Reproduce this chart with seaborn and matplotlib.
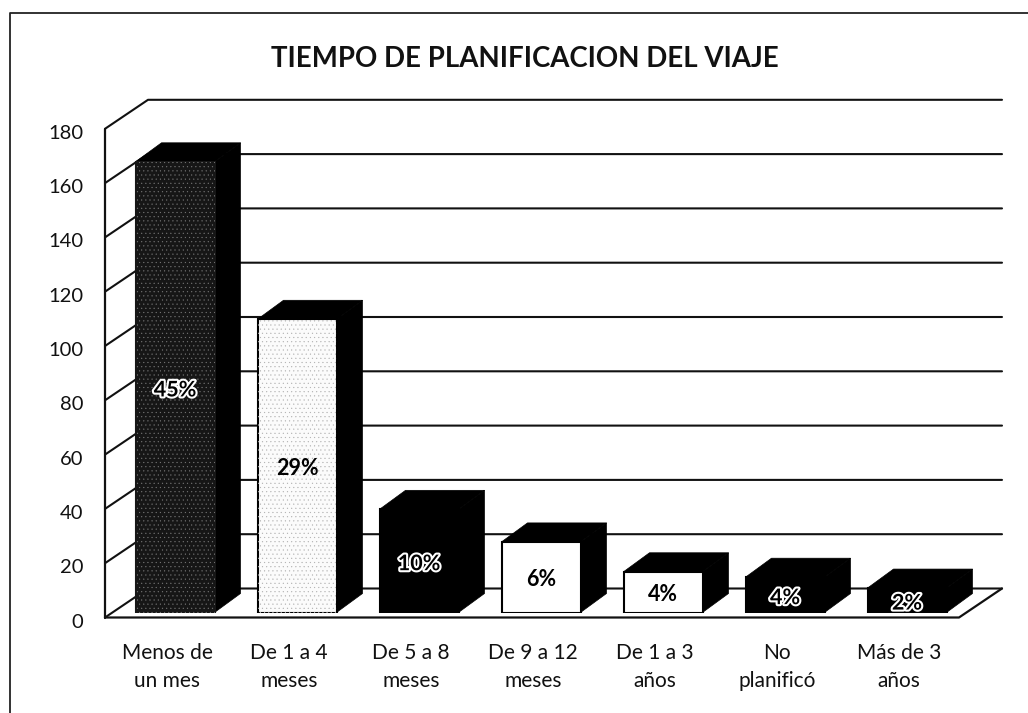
import matplotlib
matplotlib.use("Agg")
import matplotlib.pyplot as plt
import matplotlib.patheffects as pe
from matplotlib.transforms import ScaledTranslation
import seaborn as sns

categorias = ['Menos de\nun mes', 'De 1 a 4\nmeses', 'De 5 a 8\nmeses', 'De 9 a 12\nmeses',
              'De 1 a 3\naños', 'No\nplanificó', 'Más de 3\naños']
valores = [166, 108, 38, 26, 15, 13, 9]
porcentajes = ['45%', '29%', '10%', '6%', '4%', '4%', '2%']
marcas_y = [0, 20, 40, 60, 80, 100, 120, 140, 160, 180]

sns.set_theme(style="white")
plt.rcParams['font.family'] = ['Lato', 'DejaVu Sans']
plt.rcParams['hatch.linewidth'] = 0.3

W, H = 1028, 713
PX_X = 122.0          # px per category
PX_Y = 488.7 / 180    # px per value unit

fig = plt.figure(figsize=(W / 100, H / 100), dpi=100)
ax = fig.add_axes([114 / W, (H - 612.5) / H, 854 / W, 488.7 / H])

sns.barplot(x=categorias, y=valores, color='black', width=79 / PX_X, saturation=1, ax=ax, zorder=3)
ax.set_xlim(-0.5, 6.5)
ax.set_ylim(0, 180)
ax.set_yticks(marcas_y)
sns.despine(ax=ax, left=True, bottom=True)

# depth of the fake 3D, px turned into data units
front_x, front_y = -9 / PX_X, -5 / PX_Y
back_x, back_y = 34 / PX_X, 24 / PX_Y
bar_x, bar_y = 26 / PX_X, 19 / PX_Y

# walls and floor
x0, x1 = -0.5, 6.5
for m in marcas_y:
    ax.plot([x0 + front_x, x0 + back_x, x1 + back_x], [m + front_y, m + back_y, m + back_y],
            color='#111111', lw=1.5, clip_on=False, zorder=1)
ax.plot([x0 + front_x, x0 + front_x], [front_y, 180 + front_y], color='#111111', lw=1.6, clip_on=False, zorder=1)
ax.plot([x0 + front_x, x1 + front_x, x1 + back_x], [front_y, front_y, back_y],
        color='#111111', lw=1.6, clip_on=False, zorder=1)

# faces of the bars
estilos = [('#161616', '#777777', '....'), ('#fbfbfb', '#b0b0b0', '....'), ('black', 'black', None),
           ('white', 'white', None), ('white', 'white', None), ('black', 'black', None), ('black', 'black', None)]
barras = ax.containers[0]
for b, (cara, trama, hatch) in zip(barras, estilos):
    b.set_facecolor(cara)
    b.set_edgecolor('black' if cara != 'black' and cara != '#161616' else cara)
    b.set_linewidth(1.5)
    b.set_zorder(4)
    x, w, h = b.get_x(), b.get_width(), b.get_height()
    ax.fill([x, x + bar_x, x + w + bar_x, x + w], [h, h + bar_y, h + bar_y, h],
            color='black', clip_on=False, zorder=3, lw=0.5)
    ax.fill([x + w, x + w + bar_x, x + w + bar_x, x + w], [0, bar_y, h + bar_y, h],
            color='black', clip_on=False, zorder=3, lw=0.5)
    if hatch:
        ax.bar(x + w / 2, h, width=w, facecolor='none', edgecolor=trama, hatch=hatch, lw=0, zorder=5)

etiquetas = ax.bar_label(barras, labels=porcentajes, label_type='center', fontsize=15.5,
                         fontweight='bold', color='black', zorder=6)
for t, b, (cara, _, _) in zip(etiquetas, barras, estilos):
    t.set_zorder(6)
    t.xyann = (0, -2)
    if cara in ('black', '#161616'):
        t.set_path_effects([pe.withStroke(linewidth=3, foreground='white')])

# tick labels belong to the front plane, not the bar plane
ax.tick_params(axis='y', length=0, pad=22, labelsize=14.5, labelcolor='#111111')
ax.tick_params(axis='x', length=0, pad=22, labelsize=15, labelcolor='#111111')
off_y = ScaledTranslation(0, -8 / 100, fig.dpi_scale_trans)
off_x = ScaledTranslation(-8 / 100, 0, fig.dpi_scale_trans)
for lab in ax.get_yticklabels():
    lab.set_transform(lab.get_transform() + off_y)
for lab in ax.get_xticklabels():
    lab.set_transform(lab.get_transform() + off_x)
    lab.set_linespacing(1.5)

fig.text(525 / W, 1 - 59 / H, 'TIEMPO DE PLANIFICACION DEL VIAJE', ha='center', va='center',
         fontsize=19.9, fontweight='bold', color='#111111')

# chart border from the scan
fig.add_artist(plt.Line2D([10 / W, 10 / W, 1], [0, 1 - 13 / H, 1 - 13 / H], color='#222222', lw=1.3))

fig.savefig('out.png', dpi=100)
